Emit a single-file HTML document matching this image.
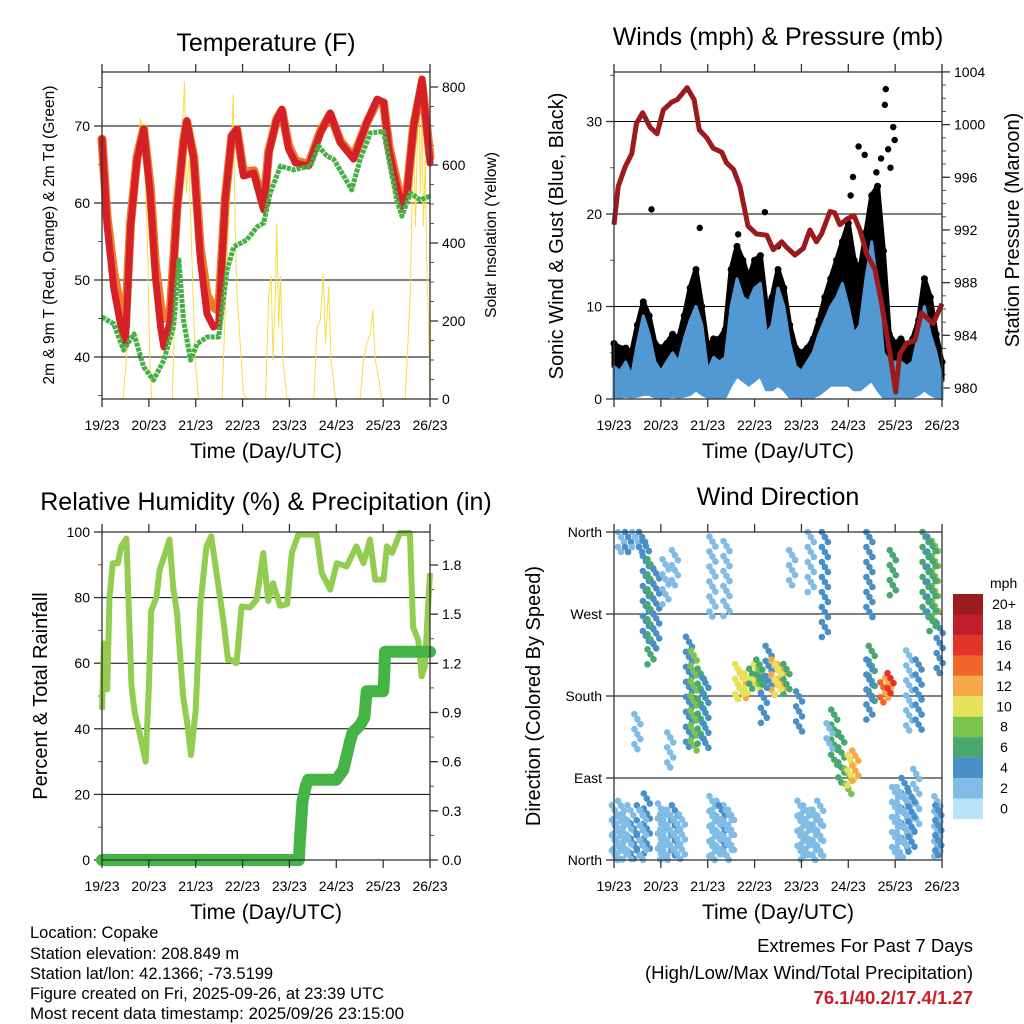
<!DOCTYPE html>
<html><head><meta charset="utf-8"><style>
html,body{margin:0;padding:0;background:#fff;}
svg{display:block;font-family:"Liberation Sans",sans-serif;}
</style></head><body>
<svg id="fig" width="1024" height="1024" viewBox="0 0 1024 1024" xmlns="http://www.w3.org/2000/svg">
<rect width="1024" height="1024" fill="#fff"/>
<g id="g1"></g>
<g id="g2"></g>
<g id="g3"></g>
<g id="g4"></g>
<g id="gtext" font-size="16.5">
<text x="30" y="938">Location: Copake</text>
<text x="30" y="959">Station elevation: 208.849 m</text>
<text x="30" y="979">Station lat/lon: 42.1366; -73.5199</text>
<text x="30" y="999">Figure created on Fri, 2025-09-26, at 23:39 UTC</text>
<text x="30" y="1019" textLength="374" lengthAdjust="spacingAndGlyphs">Most recent data timestamp: 2025/09/26 23:15:00</text>
<text x="973" y="952" text-anchor="end" font-size="18.5">Extremes For Past 7 Days</text>
<text x="973" y="979" text-anchor="end" font-size="18.5">(High/Low/Max Wind/Total Precipitation)</text>
<text x="973" y="1004" text-anchor="end" font-size="18.5" font-weight="bold" fill="#c8202a">76.1/40.2/17.4/1.27</text>
</g>
</svg>
<script>
// ---------- data ----------
const dayLabels = ["19/23","20/23","21/23","22/23","23/23","24/23","25/23","26/23"];
const tempTimes = [0,0.11,0.25,0.39,0.5,0.61,0.75,0.89,1.03,1.14,1.25,1.32,1.46,1.6,1.74,1.81,1.96,2.1,2.24,2.38,2.49,2.63,2.77,2.88,3.02,3.24,3.45,3.56,3.73,3.84,3.98,4.13,4.41,4.66,4.87,5.09,5.37,5.65,5.87,6.01,6.12,6.29,6.4,6.51,6.65,6.83,7.0];
const tempRed = [68.3,57,49,44.4,41.7,57,65.7,69.6,61,50.4,43.9,41.3,44.8,59,67.8,70.7,65.7,52.6,45.6,43.9,44.3,60.4,68.7,69.6,63.5,63.9,59.1,66.5,70.9,72.2,67,65.2,64.8,69.1,71.7,67.8,65.7,70.4,73.5,73.1,67,62.2,59.6,61.3,70,76.1,65.2];
const tempOrange = [68.3,58,51,46.5,44,57.5,66,69.6,62,52,46.5,45,46,59.5,68,70.5,66,54,48,46.5,46,60.5,68.7,69.5,64,64.2,59.5,66.8,70.9,72,67.5,65.5,65,69.3,71.5,68,66,70.4,73.2,73,67.5,62.8,60,61.5,70,75.5,66];
const dewTimes = [0,0.25,0.46,0.68,0.89,1.1,1.32,1.53,1.64,1.74,1.89,2.03,2.24,2.49,2.67,2.81,3.09,3.31,3.45,3.59,3.81,4.09,4.45,4.62,4.8,4.94,5.16,5.33,5.51,5.73,6.01,6.12,6.29,6.4,6.58,6.79,7.0];
const dewValues = [45.2,44.3,40.9,43,38.7,37,39.6,44,52.6,44.8,39.6,41.7,42.6,42.6,51.3,54.3,55.2,56.9,57.4,61.3,64.8,64.3,64.8,67.4,66.1,65.7,63.5,61.7,65.7,69.1,69.3,65.7,60.4,58.3,61.3,60.4,60.9];
const solarTimes = [0,0.45,0.55,0.65,0.75,0.82,0.9,0.97,1.02,1.06,1.5,1.6,1.67,1.76,1.8,1.85,1.92,1.99,2.06,2.56,2.7,2.75,2.8,2.84,2.88,3.02,3.09,3.49,3.56,3.61,3.65,3.7,3.73,3.77,3.81,3.86,3.95,4.52,4.59,4.66,4.72,4.77,4.84,4.89,4.98,5.51,5.58,5.65,5.73,5.78,5.83,5.9,5.97,6.47,6.58,6.65,6.69,6.72,6.76,6.79,6.83,6.86,6.9,6.93,6.97,7.0];
const solarValues = [0,0,150,400,620,720,650,400,100,0,0,442,570,814,527,613,356,100,0,0,442,613,780,442,271,15,0,0,271,314,100,271,450,185,314,100,0,0,185,203,322,143,288,100,0,0,100,143,168,228,100,57,0,0,271,698,442,613,835,527,741,442,613,356,185,15];
const pressTimes = [0,0.09,0.24,0.38,0.48,0.61,0.77,0.92,1.05,1.23,1.35,1.56,1.71,1.82,1.98,2.12,2.3,2.4,2.55,2.69,2.82,2.86,3.04,3.26,3.4,3.58,3.68,3.86,4.04,4.18,4.32,4.43,4.61,4.71,4.82,4.96,5.12,5.25,5.39,5.57,5.71,5.89,6.01,6.1,6.24,6.42,6.56,6.81,7.0];
const pressValues = [992.4,995.3,996.8,997.8,1000.1,1000.9,999.8,999.3,1001.1,1001.7,1001.9,1002.8,1001.9,999.6,999.0,998.2,997.9,997.1,996.6,995.3,993.0,992.3,991.7,991.6,990.5,991.1,990.7,990.1,990.6,992.0,991.1,991.7,993.4,993.3,992.4,992.8,993.1,992.0,990.2,989.0,986.4,982.6,979.7,982.6,983.4,983.6,985.7,984.9,986.4];
const windTimes = [0,0.125,0.25,0.375,0.5,0.625,0.75,0.875,1,1.125,1.25,1.375,1.5,1.625,1.75,1.875,2,2.125,2.25,2.375,2.5,2.625,2.75,2.875,3,3.125,3.25,3.375,3.5,3.625,3.75,3.875,4,4.125,4.25,4.375,4.5,4.625,4.75,4.875,5,5.125,5.25,5.375,5.5,5.625,5.75,5.875,6,6.125,6.25,6.375,6.5,6.625,6.75,6.875,7];
const windHigh = [3.5,3,4,2.5,6,9,7,4,3,4,5,4,6.5,8.5,10,8,3,4.5,4,4.5,10,13,11,10.5,12,12.5,7,8,12,10,6,3.5,3,4,5,7,8.5,10,11,12.5,10,7,8,13,17,12,5,4,4,4,3.5,4,7,10,7,5,2];
const windLow = [.2,.2,.3,.2,.3,.5,.5,.2,.2,.2,.3,.2,.3,.5,1,.5,.2,.2,.2,.2,1.5,2.5,2,1.5,2,2.5,1,1,1.5,1,.2,.2,.2,.2,.2,.5,1,1.5,1.5,1.5,1.5,1,1,1.5,2,1,.2,.2,.2,.2,.2,.2,.5,1,.5,.2,0];
const gustHigh = [6,5.5,5.5,5,8,10.5,9,6,5.5,6,7,6.5,9,12,14,10,5.5,6.5,6.5,7.5,14,16.5,15,13,15,15.5,10,11,14,12,8,5.5,5,5.5,6.5,8.5,11,13,15,17,19,15,14,18,22,23,16,7,6,6.5,5.5,6.5,8.5,13,11,7,4];
const gustOutT = [0.8,1.83,3.22,5.8,5.78,5.96,5.99,5.22,5.35,5.1,2.65,3.5,5.7,5.85,5.9,5.6,5.05];
const gustOutV = [20.5,18.5,20.2,33.5,31.8,29.4,28,27.3,26.4,24,17.8,16.5,26,27,25,24.5,22];
const rhTimes = [0,0.04,0.11,0.16,0.23,0.34,0.41,0.52,0.58,0.63,0.7,0.8,0.93,1.0,1.05,1.16,1.23,1.33,1.44,1.52,1.6,1.73,1.83,1.9,2.0,2.1,2.23,2.33,2.59,2.69,2.76,2.86,2.87,2.98,3.16,3.3,3.44,3.55,3.65,3.8,3.95,4.05,4.19,4.58,4.69,4.87,5.01,5.22,5.43,5.58,5.72,5.83,6.01,6.08,6.19,6.36,6.57,6.64,6.75,6.82,6.89,7.0];
const rhValues = [45.8,66,52,80,90.5,90.5,95.6,98,73,53,44.8,38.7,30,53,76,80,88.5,92.6,97.7,83,75.3,50,40.7,32,45.8,78,95.6,98.7,73,61,61,60,60,77.3,77,79.3,93.6,79,84.4,77.5,78,93.6,99.2,99.2,87.5,82.4,90.5,89.5,95.6,90.5,97.7,85.5,85.5,95.6,93.6,99.7,99.7,71,67,56,59,87.5];
const precipTimes = [0,4.2,4.22,4.28,4.35,4.4,5.0,5.15,5.29,5.35,5.5,5.6,5.65,6.0,6.02,6.04,7.0];
const precipValues = [0,0,0.1,0.36,0.45,0.49,0.49,0.55,0.72,0.78,0.82,0.87,1.03,1.03,1.1,1.27,1.27];
const streakT  = [0.02,0.08,0.15,0.25,0.35,0.42,0.15,0.3,0.45,0.6,0.68,0.78,0.9,0.7,1.0,1.15,1.3,1.45,1.2,1.3,1.6,1.7,1.85,1.95,2.1,2.25,2.4,2.5,2.3,2.1,2.4,2.65,2.75,2.85,2.95,3.05,3.15,3.3,3.42,3.55,3.68,3.95,3.98,4.1,4.25,4.4,4.2,4.5,4.7,4.85,5.0,5.05,5.15,5.45,5.5,5.75,5.85,5.9,5.45,5.95,6.0,6.2,6.45,6.3,6.5,6.65,6.75,6.85,6.9,6.95,0.5,1.1,3.8,4.6,3.2,0.05,0.12,0.2,0.3,0.55,0.62,1.05,1.2,1.35,2.15,2.2,2.35,2.45,4.05,4.15,4.3,4.35,6.1,6.25,6.35,2.7,3.5,3.1,6.8,6.92];
const streakLo = [0,0,5,0,0,0,335,338,340,335,240,212,230,7,0,0,0,5,100,300,120,117,125,120,3,5,0,10,15,265,265,172,175,178,185,185,190,190,180,185,180,140,0,0,5,0,290,240,100,85,70,80,85,265,170,170,175,180,150,290,0,10,30,140,140,265,270,260,0,200,120,280,300,120,150,0,0,5,0,0,0,0,5,0,0,0,5,0,0,5,0,0,0,10,5,175,180,190,250,0];
const streakHi = [60,55,65,50,60,40,360,360,360,360,350,330,320,73,62,55,60,50,140,340,245,230,210,200,70,65,60,55,60,355,350,215,205,205,210,215,210,235,220,215,215,185,65,60,55,65,360,360,165,140,100,115,120,360,235,195,200,205,220,340,80,90,100,230,220,360,355,350,70,260,160,330,340,150,200,45,40,50,45,60,55,50,55,45,55,50,45,55,50,45,55,50,80,70,75,210,215,220,350,60];
const streakSpd = [2,2,1,2,2,3,2,3,2,3,4,5,3,4,2,2,3,2,1,1,4,7,6,4,2,2,2,2,4,1,1,10,12,9,6,10,8,4,11,12,6,4,2,2,2,2,2,4,6,5,8,10,12,4,6,14,12,16,4,6,2,3,2,2,3,5,4,7,2,4,1,1,1,1,3,2,2,2,1,3,2,2,2,2,2,2,2,1,2,2,1,2,2,2,3,10,9,6,6,3];
const cbLabels = ["20+","18","16","14","12","10","8","6","4","2","0"];
const cbColors = ["#9b1b1f","#c01f2a","#e1352a","#f0662a","#f7a94a","#e7e25a","#7cc34d","#48a870","#4a90c8","#80bce6","#b9e3f8"];

// ---------- helpers ----------
const NS="http://www.w3.org/2000/svg";
function mk(parent,tag,attrs,text){const e=document.createElementNS(NS,tag);for(const k in attrs)e.setAttribute(k,attrs[k]);if(text!==undefined)e.textContent=text;parent.appendChild(e);return e;}
function line(g,x1,y1,x2,y2,stroke,w){return mk(g,'line',{x1,y1,x2,y2,stroke:stroke||'#000','stroke-width':w||1});}
function pathD(ts,vs,xf,yf){let d='';for(let i=0;i<ts.length;i++){d+=(i?'L':'M')+xf(ts[i]).toFixed(1)+','+yf(vs[i]).toFixed(1);}return d;}
function frame(g,L,R,T,B){
  const r=mk(g,'rect',{x:L,y:T,width:R-L,height:B-T,fill:'none',stroke:'#333','stroke-width':1.3});
  
  
}
function xAxis(g,L,R,T,B){
  const xs=t=>L+t*(R-L)/7;
  for(let i=0;i<8;i++){
    line(g,xs(i),B,xs(i),B+8,'#333',1.3);line(g,xs(i),T,xs(i),T-8,'#333',1.3);
    const t=mk(g,'text',{x:xs(i),y:B+31,'text-anchor':'middle','font-size':14},dayLabels[i]);
    
    
  }
  const tl=mk(g,'text',{x:(L+R)/2,y:B+59,'text-anchor':'middle','font-size':21},'Time (Day/UTC)');
  
  
}
function yTicks(g,side,X,vals,yf,labels,minors,grid,L,R){
  const dir=side==='left'?-1:1;
  minors.forEach(v=>line(g,X,yf(v),X+dir*4,yf(v),'#555',1));
  vals.forEach((v,i)=>{
    const y=yf(v);
    if(grid)line(g,L,y,R,y,'#000',1);
    line(g,X,y,X+dir*8,y,'#333',1.3);
    if(labels){
      const t=mk(g,'text',{x:X+dir*12,y:y+5,'text-anchor':side==='left'?'end':'start','font-size':14},labels[i]);
      
      
    }
  });
}
function rotText(g,x,y,s,size,name){
  const t=mk(g,'text',{x:x,y:y,'text-anchor':'middle','font-size':size,transform:`rotate(-90 ${x} ${y})`},s);
  
  
}
function title(g,x,y,s,name){
  const t=mk(g,'text',{x:x,y:y,'text-anchor':'middle','font-size':25},s);
  
  
}
function range(a,b,s){const r=[];for(let v=a;v<=b+1e-9;v+=s)r.push(+v.toFixed(3));return r;}

// ---------- panel 1 : temperature ----------
(function(){
  const g=document.getElementById('g1');
  const L=102,R=430,T=72,B=399;
  const xs=t=>L+t*(R-L)/7;
  const yT=v=>357-(v-40)*7.7;
  const yS=v=>399-v*0.39;
  title(g,266,51,'Temperature (F)','temperature-title');
  yTicks(g,'left',L,[40,50,60,70],yT,['40','50','60','70'],[35,45,55,65,75],true,L,R);
  yTicks(g,'right',R,[0,200,400,600,800],yS,['0','200','400','600','800'],range(50,750,50),false);
  const s=mk(g,'path',{d:pathD(solarTimes,solarValues,xs,yS),fill:'none',stroke:'#f8dc48','stroke-width':1,'stroke-linejoin':'round'});
  
  
  const o=mk(g,'path',{d:pathD(tempTimes,tempOrange,xs,yT),fill:'none',stroke:'#f07a2a','stroke-width':9,'stroke-linejoin':'round','stroke-linecap':'round'});
  
  
  const r=mk(g,'path',{d:pathD(tempTimes,tempRed,xs,yT),fill:'none',stroke:'#d42128','stroke-width':7,'stroke-linejoin':'round','stroke-linecap':'round'});
  
  
  const d=mk(g,'path',{d:pathD(dewTimes,dewValues,xs,yT),fill:'none',stroke:'#46b044','stroke-width':5,'stroke-linejoin':'round','stroke-dasharray':'4 1'});
  
  
  frame(g,L,R,T,B);
  xAxis(g,L,R,T,B);
  rotText(g,54,235,'2m & 9m T (Red, Orange) & 2m Td (Green)',15.5,'left-y-axis-title');
  rotText(g,496,235,'Solar Insolation (Yellow)',15.5,'right-y-axis-title');
})();

// ---------- panel 2 : winds & pressure ----------
(function(){
  const g=document.getElementById('g2');
  const L=614,R=942,T=72,B=399;
  const xs=t=>L+t*(R-L)/7;
  const yW=v=>399-v*9.25;
  const yP=v=>388-(v-980)*13.17;
  title(g,778,45,'Winds (mph) & Pressure (mb)','winds-title');
  yTicks(g,'left',L,[0,10,20,30],yW,['0','10','20','30'],[5,15,25,35],true,L,R);
  yTicks(g,'right',R,[980,984,988,992,996,1000,1004],yP,['980','984','988','992','996','1000','1004'],range(980,1004,1),false);
  let d=pathD(windTimes,gustHigh,xs,yW);
  for(let i=windTimes.length-1;i>=0;i--)d+='L'+xs(windTimes[i]).toFixed(1)+','+yW(windHigh[i]).toFixed(1);
  const gb=mk(g,'path',{d:d+'Z',fill:'#000',stroke:'#000','stroke-width':5,'stroke-linejoin':'round'});
  
  
  for(let i=0;i<windTimes.length;i++){
    const c=mk(g,'circle',{cx:xs(windTimes[i]),cy:yW(gustHigh[i]),r:3.5,fill:'#000'});
    
    
  }
  for(let i=0;i<gustOutT.length;i++){
    const c=mk(g,'circle',{cx:xs(gustOutT[i]),cy:yW(gustOutV[i]),r:3.2,fill:'#000'});
    
    
  }
  let d2=pathD(windTimes,windHigh,xs,yW);
  for(let i=windTimes.length-1;i>=0;i--)d2+='L'+xs(windTimes[i]).toFixed(1)+','+yW(windLow[i]).toFixed(1);
  const bb=mk(g,'path',{d:d2+'Z',fill:'#5298d2',stroke:'#5298d2','stroke-width':3,'stroke-linejoin':'round'});
  
  
  const p=mk(g,'path',{d:pathD(pressTimes,pressValues,xs,yP),fill:'none',stroke:'#9c1a1c','stroke-width':5,'stroke-linejoin':'round'});
  
  
  frame(g,L,R,T,B);
  xAxis(g,L,R,T,B);
  rotText(g,563,236,'Sonic Wind & Gust (Blue, Black)',20,'left-y-axis-title');
  rotText(g,1019,230,'Station Pressure (Maroon)',20,'right-y-axis-title');
})();

// ---------- panel 3 : RH & precip ----------
(function(){
  const g=document.getElementById('g3');
  const L=102,R=430,T=532,B=860;
  const xs=t=>L+t*(R-L)/7;
  const yR=v=>860-v*3.28;
  const yP=v=>860-v*163.9;
  title(g,266,510,'Relative Humidity (%) & Precipitation (in)','humidity-title');
  yTicks(g,'left',L,[0,20,40,60,80,100],yR,['0','20','40','60','80','100'],[10,30,50,70,90],true,L,R);
  yTicks(g,'right',R,[0,0.3,0.6,0.9,1.2,1.5,1.8],yP,['0.0','0.3','0.6','0.9','1.2','1.5','1.8'],range(0.15,1.95,0.15),false);
  const rh=mk(g,'path',{d:pathD(rhTimes,rhValues,xs,yR),fill:'none',stroke:'#92cc50','stroke-width':6,'stroke-linejoin':'round'});
  
  
  const pr=mk(g,'path',{d:pathD(precipTimes,precipValues,xs,yP),fill:'none',stroke:'#46b346','stroke-width':12,'stroke-linejoin':'round','stroke-linecap':'round'});
  
  
  frame(g,L,R,T,B);
  xAxis(g,L,R,T,B);
  rotText(g,47,696,'Percent & Total Rainfall',20,'left-y-axis-title');
})();

// ---------- panel 4 : wind direction ----------
(function(){
  const g=document.getElementById('g4');
  const L=614,R=942,T=532,B=860;
  const xs=t=>L+t*(R-L)/7;
  const yD=v=>860-v*328/360;
  title(g,778,505,'Wind Direction','wind-direction-title');
  yTicks(g,'left',L,[0,90,180,270,360],yD,['North','East','South','West','North'],[],true,L,R);
  for(let i=0;i<streakT.length;i++){
    const ci=Math.max(0,10-Math.min(10,Math.round(streakSpd[i]/2)));
    const col=cbColors[ci];
    const y0=yD(streakLo[i]),y1=yD(streakHi[i]);
    let k=0;
    for(let y=y1;y<=y0+0.1;y+=5){
      const c=mk(g,'circle',{cx:(xs(streakT[i])+((k%3)-1)*3).toFixed(1),cy:y.toFixed(1),r:3.3,fill:col});
      
      
      k++;
    }
  }
  frame(g,L,R,T,B);
  xAxis(g,L,R,T,B);
  rotText(g,540,696,'Direction (Colored By Speed)',20,'left-y-axis-title');
  const cb=mk(g,'g',{});
  
  
  const u=mk(cb,'text',{x:990,y:588,'font-size':14},'mph');
  
  
  for(let i=0;i<cbColors.length;i++){
    const y=594+i*20.45;
    const r=mk(cb,'rect',{x:953,y:y,width:30,height:20.6,fill:cbColors[i]});
    
    
    const t=mk(cb,'text',{x:1004,y:y+15,'text-anchor':'middle','font-size':14},cbLabels[i]);
    
    
  }
})();
</script>
</body></html>
